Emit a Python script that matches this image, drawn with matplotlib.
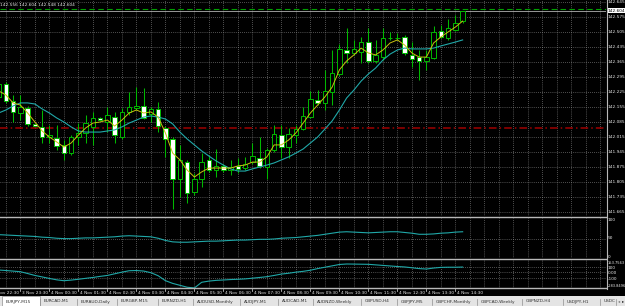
import matplotlib
matplotlib.use("Agg")
import matplotlib.pyplot as plt
from matplotlib.patches import Rectangle
from matplotlib.lines import Line2D
import matplotlib.transforms as mtransforms

W, H = 625, 306

# EURJPY M15, one entry per bar, first bar = 3 Nov 22:45
opens = [142.202, 142.262, 142.183, 142.127, 142.150, 142.076, 142.062, 142.015, 142.010, 141.978,
         141.940, 142.015, 142.034, 142.062, 142.104, 142.085, 142.108, 142.015, 142.132, 142.150,
         142.160, 142.122, 142.146, 142.057, 142.006, 141.819, 141.898, 141.758, 141.819, 141.908,
         141.861, 141.880, 141.861, 141.880, 141.870, 141.898, 141.917, 141.875, 141.954, 142.024,
         141.968, 142.024, 142.052, 142.108, 142.188, 142.174, 142.225, 142.309, 142.421, 142.407,
         142.412, 142.458, 142.370, 142.388, 142.477, 142.477, 142.482, 142.398, 142.388, 142.370,
         142.384, 142.510, 142.477, 142.514, 142.556]
highs = [142.281, 142.272, 142.211, 142.211, 142.160, 142.080, 142.141, 142.071, 142.071, 142.001,
         142.024, 142.080, 142.118, 142.132, 142.108, 142.155, 142.132, 142.150, 142.225, 142.248,
         142.244, 142.155, 142.178, 142.066, 142.015, 141.978, 141.908, 141.847, 141.940, 141.931,
         141.959, 141.889, 141.908, 141.917, 141.922, 141.987, 142.015, 141.964, 142.071, 142.071,
         142.057, 142.071, 142.155, 142.230, 142.234, 142.328, 142.421, 142.449, 142.524, 142.468,
         142.482, 142.524, 142.468, 142.524, 142.505, 142.500, 142.491, 142.458, 142.421, 142.421,
         142.533, 142.538, 142.566, 142.584, 142.604]
lows = [142.192, 142.174, 142.085, 142.094, 142.066, 142.062, 141.987, 141.987, 141.954, 141.908,
        141.931, 141.978, 141.987, 141.978, 142.090, 142.038, 141.987, 142.006, 142.118, 142.141,
        142.099, 142.085, 142.038, 141.922, 141.679, 141.735, 141.707, 141.744, 141.782, 141.852,
        141.828, 141.852, 141.838, 141.847, 141.861, 141.889, 141.870, 141.819, 141.945, 141.917,
        141.917, 141.987, 142.048, 142.104, 142.164, 142.141, 142.164, 142.300, 142.360, 142.398,
        142.360, 142.360, 142.360, 142.374, 142.468, 142.468, 142.398, 142.342, 142.281, 142.328,
        142.379, 142.477, 142.468, 142.510, 142.548]
closes = [142.262, 142.183, 142.132, 142.155, 142.076, 142.066, 142.015, 142.024, 141.973, 141.940,
          142.015, 142.034, 142.080, 142.104, 142.094, 142.118, 142.024, 142.132, 142.155, 142.160,
          142.104, 142.146, 142.066, 142.006, 141.819, 141.908, 141.754, 141.819, 141.898, 141.861,
          141.880, 141.861, 141.875, 141.866, 141.889, 141.926, 141.880, 141.954, 142.029, 141.968,
          142.029, 142.052, 142.113, 142.192, 142.174, 142.230, 142.314, 142.426, 142.407, 142.426,
          142.458, 142.370, 142.398, 142.477, 142.477, 142.477, 142.407, 142.379, 142.370, 142.388,
          142.505, 142.482, 142.524, 142.547, 142.604]
ma_fast = [142.230, 142.211, 142.174, 142.164, 142.127, 142.085, 142.043, 142.015, 141.992, 141.968,
           141.987, 142.024, 142.057, 142.080, 142.085, 142.094, 142.066, 142.094, 142.127, 142.141,
           142.127, 142.132, 142.108, 142.034, 141.940, 141.908, 141.861, 141.828, 141.852, 141.870,
           141.870, 141.870, 141.870, 141.880, 141.884, 141.898, 141.898, 141.922, 141.978, 141.978,
           142.001, 142.034, 142.080, 142.127, 142.164, 142.202, 142.248, 142.328, 142.370, 142.398,
           142.430, 142.407, 142.398, 142.421, 142.454, 142.468, 142.444, 142.407, 142.388, 142.388,
           142.454, 142.482, 142.505, 142.528, 142.556]
ma_slow = [142.127, 142.141, 142.160, 142.174, 142.174, 142.169, 142.146, 142.127, 142.104, 142.085,
           142.062, 142.043, 142.038, 142.038, 142.038, 142.043, 142.048, 142.062, 142.080, 142.094,
           142.108, 142.113, 142.108, 142.099, 142.076, 142.038, 142.006, 141.978, 141.950, 141.926,
           141.903, 141.884, 141.866, 141.856, 141.856, 141.866, 141.875, 141.884, 141.894, 141.908,
           141.922, 141.940, 141.959, 141.987, 142.015, 142.052, 142.090, 142.141, 142.197, 142.234,
           142.276, 142.309, 142.337, 142.374, 142.402, 142.421, 142.430, 142.426, 142.426, 142.426,
           142.430, 142.440, 142.449, 142.458, 142.468]
osc1 = [62, 61, 60, 59, 58, 57, 55, 54, 52, 51, 51, 52, 53, 53, 54, 55, 56, 58, 59, 58,
        57, 56, 52, 46, 42, 41, 41, 42, 43, 44, 44, 45, 46, 47, 47, 48, 49, 49, 50, 52,
        53, 54, 56, 58, 60, 63, 66, 69, 70, 69, 68, 67, 68, 69, 70, 70, 68, 66, 63, 63,
        64, 66, 67, 69, 70]
osc2 = [44, 35, 24, 13, -20, -55, -82, -110, -135, -151, -140, -125, -108, -92, -72, -55, -25, 5, 31, 35,
        25, -5, -60, -150, -200, -235, -270, -283.85, -180, -158, -145, -138, -130, -125, -118, -105, -92, -78, -55, -30,
        -15, 5, 20, 40, 70, 95, 120, 145, 153.76, 152, 150, 148, 138, 128, 118, 108, 100, 85, 70, 62,
        80, 92, 95, 95, 98]

price_labels = ["142.645", "142.575", "142.505", "142.435", "142.365", "142.295", "142.225", "142.155",
                "142.085", "142.015", "141.945", "141.875", "141.805", "141.735", "141.665"]
bid, ask, hline_red = 142.604, 142.611, 142.057
osc1_labels = ["100", "50", "0"]
osc2_labels = ["153.7563", "100", "0.00", "-100", "-283.8496"]
time_labels = ["3 Nov 22:30", "3 Nov 23:30", "4 Nov 00:30", "4 Nov 01:30", "4 Nov 02:30", "4 Nov 03:30",
               "4 Nov 04:30", "4 Nov 05:30", "4 Nov 06:30", "4 Nov 07:30", "4 Nov 08:30", "4 Nov 09:30",
               "4 Nov 10:30", "4 Nov 11:30", "4 Nov 12:30", "4 Nov 13:30", "4 Nov 14:30"]
time_label_bars = list(range(-1, 64, 4))
tabs = ["EURJPY,M15", "EURCAD,M1", "EURAUD,Daily", "EURGBP,M15", "EURNZD,H1", "AUDUSD,Monthly",
        "AUDJPY,M1", "AUDCAD,M1", "AUDNZD,Weekly", "GBPUSD,H4", "GBPJPY,M5", "GBPCHF,Monthly",
        "GBPCAD,Weekly", "GBPNZD,H4", "USDJPY,H1", "USDC"]
tab_edges = [2, 40, 77, 117, 158, 193, 240, 278, 313, 361, 397, 432, 477, 522, 563, 600, 616]

GREEN = "#00b800"
GRID = "#9a9a9a"
SEP = "#b8b8b8"
TXT = "#e8e8e8"
FS = 3.1

def px_box(x0, y0, x1, y1):
    return [x0 / W, 1 - y1 / H, (x1 - x0) / W, (y1 - y0) / H]

def bar_px(k):
    return -1.35 + 7.25 * k

x_lo, x_hi = (0 + 1.35) / 7.25, (606 + 1.35) / 7.25
n = len(closes)
xs = list(range(n))

fig = plt.figure(figsize=(W / 100, H / 100), dpi=100, facecolor="black")

ax = fig.add_axes(px_box(0, 0, 606, 216))
ax1 = fig.add_axes(px_box(0, 218, 606, 258))
ax2 = fig.add_axes(px_box(0, 260, 606, 288))
for a in (ax, ax1, ax2):
    a.set_facecolor("black")
    a.set_xlim(x_lo, x_hi)
    a.set_xticks([])
    a.set_yticks([])
    for s in a.spines.values():
        s.set_visible(False)
    for k in range(1, 85, 2):
        a.axvline(k, color=GRID, lw=0.5, ls=(0, (1, 2)), zorder=0)

# main price window
ax.set_ylim(142.6543 - 216 * 0.0046667, 142.6543)
for lab in price_labels:
    ax.axhline(float(lab), color=GRID, lw=0.5, ls=(0, (1, 2)), zorder=0)
ax.axhline(hline_red, color="#a00000", lw=1.1, ls=(0, (5, 2, 1, 2)), zorder=1)
ax.axhline(ask, color="#00a000", lw=0.8, ls=(0, (5, 3)), zorder=1)
ax.axhline(bid, color="#b0b0b0", lw=0.6, zorder=1)

for i in xs:
    o, h, l, c = opens[i], highs[i], lows[i], closes[i]
    ax.vlines(i, l, h, color=GREEN, lw=0.75, zorder=2)
    face = "white" if c < o else "black"
    ax.add_patch(Rectangle((i - 0.31, min(o, c)), 0.62, abs(c - o), facecolor=face,
                           edgecolor=GREEN, lw=0.7, zorder=3))
ax.plot(xs, ma_slow, color="#20a8a8", lw=0.8, zorder=4)
ax.plot(xs, ma_fast, color="#c8c010", lw=0.7, zorder=5)

tr = mtransforms.blended_transform_factory(ax.transAxes, ax.transData)
for lab in price_labels:
    ax.text(1.003, float(lab), lab, transform=tr, fontsize=FS, color=TXT, va="center", ha="left",
            clip_on=False)
ax.text(1.003, bid, f"{bid:.3f}", transform=tr, fontsize=FS, color="black", va="center", ha="left",
        clip_on=False, bbox=dict(facecolor="white", edgecolor="none", pad=0.4), zorder=10)
ax.text(0.0, 0.985, f"{opens[-1]:.3f} {highs[-1]:.3f} {lows[-1]:.3f} {closes[-1]:.3f}",
        transform=ax.transAxes, fontsize=FS, color=TXT, va="top", ha="left")

# oscillator windows
ax1.set_ylim(-2.7, 108.1)
ax1.axhline(50, color=GRID, lw=0.5, ls=(0, (1, 2)), zorder=0)
ax1.plot(xs, osc1, color="#20a8a8", lw=0.8)

ax2.set_ylim(-284.2, 226.8)
for lv in (100, 0, -100):
    ax2.axhline(lv, color=GRID, lw=0.5, ls=(0, (1, 2)), zorder=0)
ax2.plot(xs, osc2, color="#20a8a8", lw=0.8)

for lab, y in zip(osc1_labels, [220, 238, 257]):
    fig.text(608 / W, 1 - y / H, lab, fontsize=FS, color=TXT, va="center", ha="left")
for lab, y in zip(osc2_labels, [263, 268, 273, 279, 286]):
    fs = 2.6 if len(lab) > 6 else FS
    fig.text(607.5 / W, 1 - y / H, lab, fontsize=fs, color=TXT, va="center", ha="left")

# separators and right axis line
for y in (216.5, 258.8, 288.3):
    fig.add_artist(Line2D([0, 606 / W], [1 - y / H] * 2, color=SEP, lw=1.0))
fig.add_artist(Line2D([606.5 / W] * 2, [1 - 288.5 / H, 1], color=SEP, lw=0.8))

# time axis (first label runs off the left edge, as in the terminal)
for lab, k in zip(time_labels, time_label_bars):
    x = bar_px(k)
    fig.add_artist(Line2D([x / W] * 2, [1 - 288.5 / H, 1 - 291 / H], color=TXT, lw=0.5))
    fig.text((x + 1.5) / W, 1 - 292.5 / H, lab, fontsize=FS, color=TXT, va="center", ha="left")

# symbol tabs
fig.add_artist(Rectangle((0, 0), 1, 10 / H, transform=fig.transFigure, facecolor="#e4e4e4",
                         edgecolor="none"))
fig.add_artist(Rectangle((tab_edges[0] / W, 0), (tab_edges[1] - tab_edges[0]) / W, 10 / H,
                         transform=fig.transFigure, facecolor="white", edgecolor="#909090", lw=0.5))
for lab, x0, x1 in zip(tabs, tab_edges[:-1], tab_edges[1:]):
    fig.text((x0 + 4) / W, 1 - 301.5 / H, lab, fontsize=FS, color="#303030", va="center", ha="left")
    fig.add_artist(Line2D([x1 / W] * 2, [1 - 298.5 / H, 1 - 304.5 / H], color="#909090", lw=0.5))
fig.text(618 / W, 1 - 301.5 / H, "\u25c2", fontsize=FS, color="#707070", va="center", ha="left")
fig.text(622 / W, 1 - 301.5 / H, "\u25b8", fontsize=FS, color="#202020", va="center", ha="left")

fig.savefig("out.png", dpi=100, facecolor="black")
